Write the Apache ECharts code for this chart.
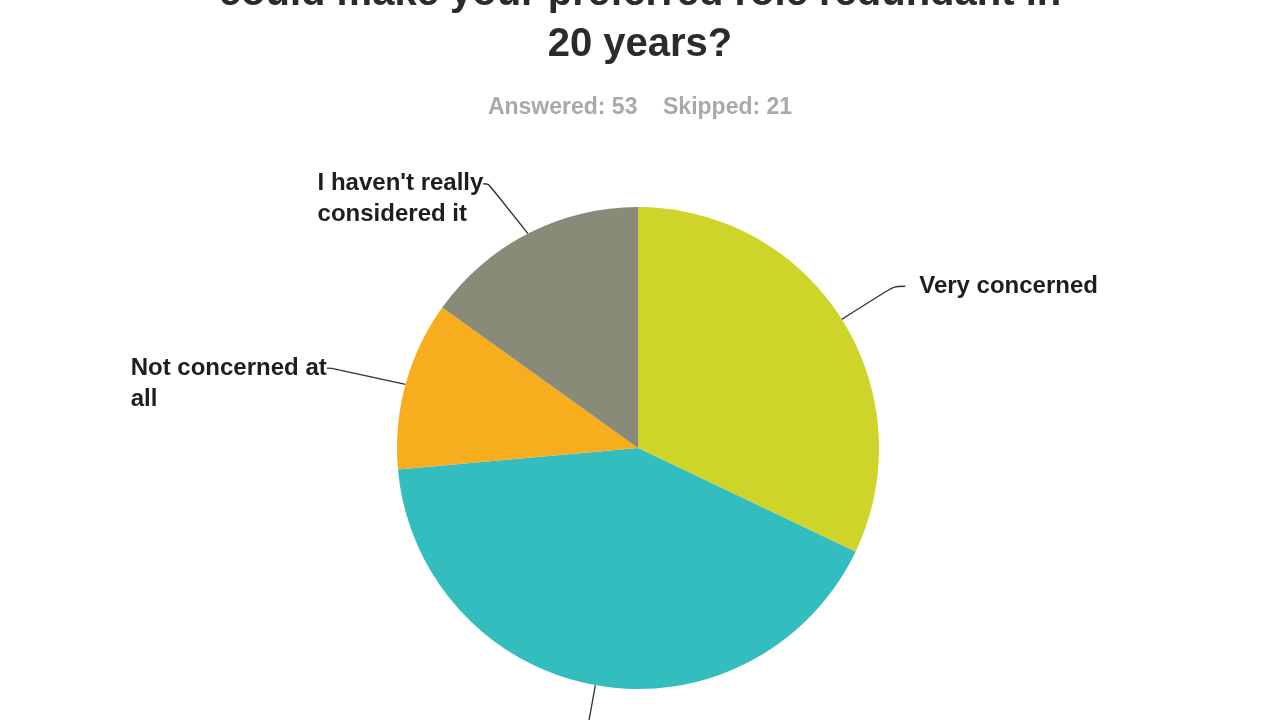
<!DOCTYPE html>
<html>
<head>
<meta charset="utf-8">
<script src="https://cdn.jsdelivr.net/npm/echarts@6/dist/echarts.min.js"></script>
<style>
  html, body { margin: 0; padding: 0; background: #fff; }
  #chart { width: 1280px; height: 720px; }
</style>
</head>
<body>
<div id="chart"></div>
<script>
// --- data ---
const titleLines = ['could make your preferred role redundant in', '20 years?'];
const answered = 53;
const skipped = 21;
const categories = ['Very concerned', 'Somewhat concerned', 'Not concerned at all', "I haven't really considered it"];
const labelTexts = ['Very concerned', 'Somewhat concerned', 'Not concerned at\nall', "I haven't really\nconsidered it"];
const counts = [17, 22, 6, 8];
const colors = ['#cfd42b', '#33bdbe', '#f6ae1f', '#8a8a79'];

const chart = echarts.init(document.getElementById('chart'));

// two-line labels get an empty first line so the real first line sits
// level with the end of the label line
function labelText(p) {
  const txt = labelTexts[p.dataIndex];
  return txt.indexOf('\n') >= 0 ? '\n' + txt : txt;
}

const option = {
  backgroundColor: '#fff',
  animation: false,
  title: [
    {
      text: titleLines.join('\n'),
      left: 'center',
      top: -37,
      textStyle: {
        fontFamily: 'Liberation Sans, Arial, sans-serif',
        fontWeight: 'bold',
        fontSize: 40,
        lineHeight: 51,
        color: '#2b2b2b',
      },
    },
    {
      text: 'Answered: ' + answered + '    Skipped: ' + skipped,
      left: 'center',
      top: 91,
      textStyle: {
        fontFamily: 'Liberation Sans, Arial, sans-serif',
        fontWeight: 'bold',
        fontSize: 23,
        color: '#a9a9a9',
      },
    },
  ],
  series: [
    {
      type: 'pie',
      center: [638, 448],
      radius: 241,
      startAngle: 90,
      clockwise: true,
      avoidLabelOverlap: false,
      label: {
        show: true,
        fontFamily: 'Liberation Sans, Arial, sans-serif',
        fontWeight: 'bold',
        fontSize: 24,
        lineHeight: 31,
        color: '#1e1e1e',
        distanceToLabelLine: 14,
        formatter: labelText,
      },
      labelLine: {
        show: true,
        length: 62,
        length2: 5,
        smooth: true,
        lineStyle: { color: '#333', width: 1.3 },
      },
      labelLayout: function (p) {
        // left-side labels: keep the lines left aligned inside the block
        if (p.align === 'right' && p.dataIndex !== 1) {
          return { x: p.labelRect.x, align: 'left' };
        }
        return {};
      },
      emphasis: { disabled: true },
      data: categories.map((name, i) => ({
        name: name,
        value: counts[i],
        itemStyle: { color: colors[i] },
        labelLine: [{ length2: 11 }, { length: 90 }, undefined, { length: 56 }][i],
      })),
    },
  ],
};

chart.setOption(option);
</script>
</body>
</html>
